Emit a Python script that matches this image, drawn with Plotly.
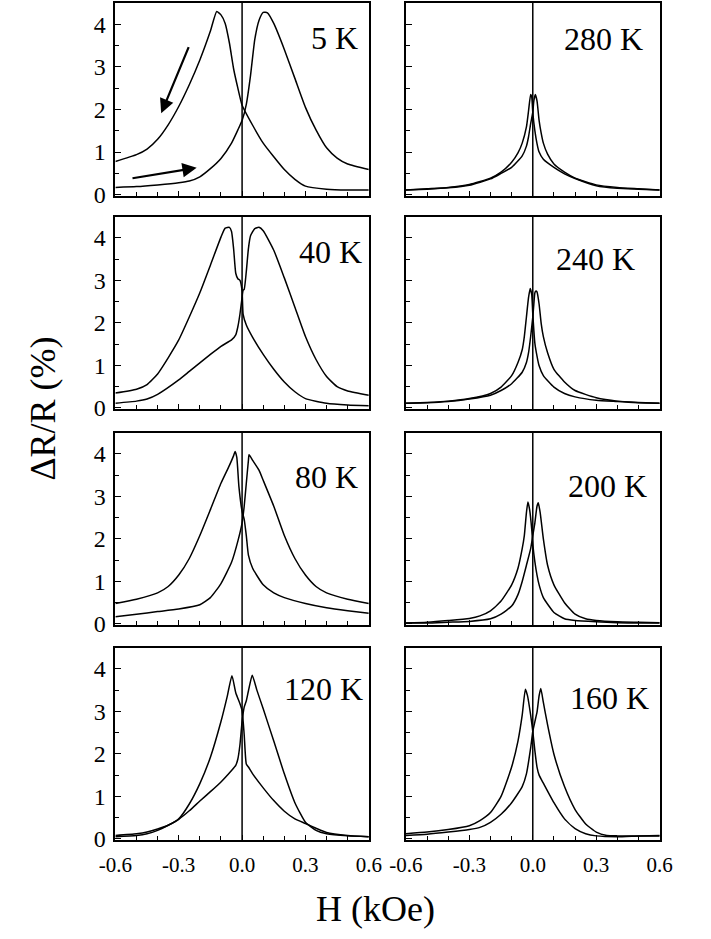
import plotly.graph_objects as go

# ---------------- data ----------------
temps_left = ["5 K", "40 K", "80 K", "120 K"]
temps_right = ["280 K", "240 K", "200 K", "160 K"]

# 5 K
h_dn_5 = [-0.6, -0.5, -0.45, -0.4, -0.35, -0.3, -0.25, -0.2, -0.15, -0.12, -0.1, -0.08, -0.06, -0.04, -0.02, 0, 0.05, 0.1, 0.15, 0.2, 0.25, 0.3, 0.4, 0.5, 0.6]
r_dn_5 = [0.78, 0.94, 1.07, 1.3, 1.64, 2.07, 2.58, 3.16, 3.84, 4.3, 4.22, 4.02, 3.56, 2.95, 2.5, 2.1, 1.63, 1.21, 0.89, 0.59, 0.36, 0.2, 0.13, 0.11, 0.11]
h_up_5 = [-0.6, -0.5, -0.4, -0.3, -0.25, -0.2, -0.15, -0.1, -0.05, -0.02, 0, 0.02, 0.04, 0.06, 0.08, 0.1, 0.12, 0.15, 0.2, 0.25, 0.3, 0.35, 0.4, 0.45, 0.5, 0.6]
r_up_5 = [0.17, 0.19, 0.23, 0.28, 0.32, 0.42, 0.61, 0.85, 1.21, 1.52, 1.74, 2.12, 2.8, 3.64, 4.09, 4.28, 4.27, 4.02, 3.41, 2.73, 2.05, 1.52, 1.1, 0.86, 0.72, 0.59]

# 40 K
h_dn_40 = [-0.6, -0.5, -0.45, -0.4, -0.35, -0.3, -0.25, -0.2, -0.15, -0.1, -0.08, -0.06, -0.05, -0.04, -0.03, -0.02, -0.01, 0, 0.005, 0.02, 0.05, 0.1, 0.15, 0.2, 0.25, 0.3, 0.4, 0.5, 0.6]
r_dn_40 = [0.35, 0.44, 0.55, 0.8, 1.18, 1.6, 2.14, 2.71, 3.36, 4.02, 4.23, 4.25, 4.15, 3.74, 3.17, 3.04, 3.0, 2.75, 2.2, 1.95, 1.66, 1.26, 0.91, 0.61, 0.38, 0.22, 0.11, 0.07, 0.05]
h_up_40 = [-0.6, -0.5, -0.45, -0.4, -0.3, -0.25, -0.2, -0.15, -0.1, -0.05, -0.03, -0.02, -0.01, 0, 0.005, 0.01, 0.02, 0.03, 0.04, 0.06, 0.08, 0.1, 0.15, 0.2, 0.25, 0.3, 0.35, 0.4, 0.45, 0.5, 0.6]
r_up_40 = [0.11, 0.16, 0.21, 0.32, 0.66, 0.86, 1.06, 1.26, 1.45, 1.6, 1.72, 1.91, 2.21, 2.6, 2.77, 2.79, 3.21, 3.75, 4.05, 4.22, 4.25, 4.17, 3.71, 3.06, 2.37, 1.68, 1.14, 0.74, 0.5, 0.4, 0.3]

# 80 K
h_dn_80 = [-0.6, -0.5, -0.4, -0.35, -0.3, -0.25, -0.2, -0.15, -0.1, -0.06, -0.04, -0.033, -0.025, -0.015, 0, 0.01, 0.02, 0.03, 0.05, 0.1, 0.15, 0.2, 0.3, 0.4, 0.5, 0.6]
r_dn_80 = [0.48, 0.58, 0.73, 0.88, 1.15, 1.54, 2.08, 2.69, 3.31, 3.73, 3.96, 4.06, 3.92, 3.23, 2.65, 2.46, 2.08, 1.62, 1.31, 0.92, 0.73, 0.62, 0.48, 0.38, 0.31, 0.25]
h_up_80 = [-0.6, -0.5, -0.4, -0.3, -0.2, -0.15, -0.1, -0.05, -0.02, 0, 0.01, 0.02, 0.03, 0.033, 0.05, 0.08, 0.1, 0.15, 0.2, 0.25, 0.3, 0.35, 0.4, 0.5, 0.6]
r_up_80 = [0.17, 0.23, 0.29, 0.35, 0.45, 0.62, 0.95, 1.45, 1.95, 2.38, 2.77, 3.31, 3.85, 3.98, 3.85, 3.62, 3.38, 2.77, 2.08, 1.54, 1.15, 0.88, 0.73, 0.58, 0.48]

# 120 K
h_dn_120 = [-0.6, -0.5, -0.45, -0.4, -0.35, -0.3, -0.25, -0.2, -0.15, -0.1, -0.07, -0.048, -0.03, -0.01, 0, 0.01, 0.02, 0.03, 0.05, 0.1, 0.15, 0.2, 0.25, 0.3, 0.35, 0.4, 0.5, 0.6]
r_dn_120 = [0.08, 0.12, 0.16, 0.23, 0.32, 0.47, 0.82, 1.3, 1.92, 2.76, 3.36, 3.84, 3.44, 3.18, 3.02, 2.45, 1.76, 1.69, 1.53, 1.2, 0.9, 0.65, 0.47, 0.36, 0.25, 0.15, 0.08, 0.05]
h_up_120 = [-0.6, -0.5, -0.45, -0.4, -0.35, -0.3, -0.25, -0.2, -0.15, -0.1, -0.05, -0.03, -0.02, -0.01, 0, 0.01, 0.02, 0.03, 0.048, 0.07, 0.1, 0.15, 0.2, 0.25, 0.3, 0.35, 0.4, 0.5, 0.6]
r_up_120 = [0.05, 0.08, 0.12, 0.2, 0.32, 0.46, 0.66, 0.89, 1.11, 1.34, 1.61, 1.73, 1.88, 2.22, 2.76, 3.1, 3.25, 3.48, 3.85, 3.5, 3.06, 2.3, 1.53, 0.85, 0.39, 0.2, 0.12, 0.07, 0.05]

# 280 K
h_dn_280 = [-0.6, -0.5, -0.4, -0.3, -0.2, -0.15, -0.1, -0.07, -0.05, -0.03, -0.02, -0.01, -0.005, 0, 0.01, 0.02, 0.03, 0.05, 0.1, 0.15, 0.2, 0.3, 0.4, 0.5, 0.6]
r_dn_280 = [0.11, 0.14, 0.17, 0.24, 0.39, 0.53, 0.76, 0.98, 1.21, 1.59, 1.97, 2.35, 2.3, 1.93, 1.5, 1.2, 1.0, 0.83, 0.64, 0.49, 0.38, 0.21, 0.15, 0.13, 0.11]
h_up_280 = [-0.6, -0.5, -0.4, -0.3, -0.2, -0.15, -0.1, -0.05, -0.03, -0.02, -0.01, 0, 0.005, 0.012, 0.02, 0.03, 0.04, 0.05, 0.07, 0.1, 0.15, 0.2, 0.3, 0.4, 0.5, 0.6]
r_up_280 = [0.11, 0.13, 0.16, 0.22, 0.37, 0.5, 0.64, 0.91, 1.14, 1.36, 1.67, 1.93, 2.2, 2.35, 2.2, 1.74, 1.44, 1.21, 0.95, 0.72, 0.53, 0.39, 0.23, 0.17, 0.14, 0.11]

# 240 K
h_dn_240 = [-0.6, -0.5, -0.4, -0.3, -0.2, -0.15, -0.1, -0.07, -0.05, -0.04, -0.03, -0.02, -0.012, -0.005, 0, 0.01, 0.02, 0.03, 0.05, 0.1, 0.15, 0.2, 0.3, 0.4, 0.5, 0.6]
r_dn_240 = [0.11, 0.13, 0.16, 0.22, 0.34, 0.49, 0.76, 1.07, 1.37, 1.68, 2.14, 2.6, 2.81, 2.67, 2.21, 1.52, 1.22, 0.99, 0.76, 0.49, 0.34, 0.26, 0.18, 0.15, 0.12, 0.11]
h_up_240 = [-0.6, -0.5, -0.4, -0.3, -0.2, -0.15, -0.1, -0.05, -0.03, -0.02, -0.01, 0, 0.005, 0.01, 0.015, 0.02, 0.03, 0.04, 0.05, 0.07, 0.1, 0.15, 0.2, 0.3, 0.4, 0.5, 0.6]
r_up_240 = [0.11, 0.12, 0.15, 0.21, 0.3, 0.41, 0.57, 0.84, 1.07, 1.3, 1.68, 2.14, 2.44, 2.71, 2.75, 2.73, 2.44, 1.98, 1.68, 1.3, 0.91, 0.61, 0.41, 0.24, 0.16, 0.13, 0.11]

# 200 K
h_dn_200 = [-0.6, -0.5, -0.4, -0.3, -0.25, -0.2, -0.15, -0.1, -0.07, -0.05, -0.04, -0.03, -0.023, -0.015, -0.005, 0, 0.01, 0.02, 0.03, 0.05, 0.1, 0.15, 0.2, 0.3, 0.4, 0.5, 0.6]
r_dn_200 = [0.02, 0.04, 0.08, 0.13, 0.19, 0.31, 0.54, 0.92, 1.31, 1.77, 2.08, 2.62, 2.87, 2.69, 2.23, 1.88, 1.46, 1.15, 0.92, 0.62, 0.27, 0.12, 0.08, 0.05, 0.03, 0.02, 0.02]
h_up_200 = [-0.6, -0.5, -0.4, -0.3, -0.2, -0.15, -0.1, -0.07, -0.05, -0.03, -0.01, 0, 0.01, 0.02, 0.026, 0.035, 0.05, 0.07, 0.1, 0.15, 0.2, 0.25, 0.3, 0.4, 0.5, 0.6]
r_up_200 = [0.02, 0.02, 0.04, 0.06, 0.12, 0.23, 0.42, 0.69, 1.0, 1.38, 1.77, 2.08, 2.38, 2.77, 2.85, 2.62, 2.0, 1.38, 0.92, 0.5, 0.23, 0.12, 0.08, 0.05, 0.04, 0.03]

# 160 K
h_dn_160 = [-0.6, -0.5, -0.4, -0.3, -0.25, -0.2, -0.15, -0.1, -0.07, -0.05, -0.035, -0.025, -0.01, 0, 0.01, 0.02, 0.03, 0.05, 0.1, 0.15, 0.2, 0.25, 0.3, 0.4, 0.5, 0.6]
r_dn_160 = [0.12, 0.16, 0.22, 0.31, 0.43, 0.62, 1.0, 1.69, 2.3, 2.91, 3.52, 3.37, 2.91, 2.53, 2.07, 1.69, 1.5, 1.31, 0.85, 0.47, 0.24, 0.12, 0.07, 0.05, 0.07, 0.08]
h_up_160 = [-0.6, -0.5, -0.4, -0.3, -0.25, -0.2, -0.15, -0.1, -0.05, -0.03, -0.01, 0, 0.01, 0.02, 0.03, 0.038, 0.05, 0.07, 0.1, 0.15, 0.2, 0.25, 0.3, 0.35, 0.4, 0.5, 0.6]
r_up_160 = [0.08, 0.11, 0.16, 0.22, 0.27, 0.39, 0.58, 0.85, 1.23, 1.53, 2.14, 2.53, 2.76, 2.98, 3.37, 3.54, 3.21, 2.68, 1.99, 1.23, 0.69, 0.35, 0.16, 0.08, 0.07, 0.07, 0.07]

x_tickvals = [-0.6, -0.3, 0.0, 0.3, 0.6]
x_ticktext = ["-0.6", "-0.3", "0.0", "0.3", "0.6"]
y_tickvals = [0, 1, 2, 3, 4]
y_ticktext = ["0", "1", "2", "3", "4"]

# ---------------- layout ----------------
W, Hh = 711, 939
FONT = "Liberation Serif, Times New Roman, serif"

def fx(px):
    return px / W

def fy(py):
    return 1 - py / Hh

col_px = [(102.7, 367.3), (406.0, 671.0)]
row_px = [(3.0, 198.5), (219.5, 414.5), (438.3, 633.3), (656.0, 851.0)]

panels = [
    (0, 0, temps_left[0], h_dn_5, r_dn_5, h_up_5, r_up_5, (331, 38)),
    (0, 1, temps_left[1], h_dn_40, r_dn_40, h_up_40, r_up_40, (327, 255)),
    (0, 2, temps_left[2], h_dn_80, r_dn_80, h_up_80, r_up_80, (323, 483)),
    (0, 3, temps_left[3], h_dn_120, r_dn_120, h_up_120, r_up_120, (320, 698)),
    (1, 0, temps_right[0], h_dn_280, r_dn_280, h_up_280, r_up_280, (612, 39)),
    (1, 1, temps_right[1], h_dn_240, r_dn_240, h_up_240, r_up_240, (604, 262)),
    (1, 2, temps_right[2], h_dn_200, r_dn_200, h_up_200, r_up_200, (617, 492)),
    (1, 3, temps_right[3], h_dn_160, r_dn_160, h_up_160, r_up_160, (619, 707)),
]

fig = go.Figure()
layout = dict(
    width=W, height=Hh,
    margin=dict(l=0, r=0, t=0, b=0),
    paper_bgcolor="white", plot_bgcolor="white",
    showlegend=False,
    font=dict(family=FONT, color="black"),
)
shapes = []
annotations = []

for i, (c, r, label, hd, rd, hu, ru, lab) in enumerate(panels, start=1):
    xa = "x" if i == 1 else f"x{i}"
    ya = "y" if i == 1 else f"y{i}"
    xkey = "xaxis" if i == 1 else f"xaxis{i}"
    ykey = "yaxis" if i == 1 else f"yaxis{i}"
    x0, x1 = col_px[c]
    yt, yb = row_px[r]
    layout[xkey] = dict(
        domain=[fx(x0), fx(x1)], anchor=ya, range=[-0.6, 0.6],
        showgrid=False, zeroline=False, showline=True, mirror=True,
        linecolor="black", linewidth=1.6,
        tickmode="array", tickvals=x_tickvals, ticktext=x_ticktext,
        ticks="inside", ticklen=5, tickwidth=1.2, tickcolor="black",
        minor=dict(tickmode="linear", tick0=0, dtick=0.1, ticks="inside",
                   ticklen=4, tickwidth=1.2, tickcolor="black"),
        showticklabels=(r == 3),
        ticklabelstandoff=5,
        tickfont=dict(family=FONT, size=21, color="black"),
        fixedrange=True,
    )
    layout[ykey] = dict(
        domain=[fy(yb), fy(yt)], anchor=xa, range=[-0.03, 4.5],
        showgrid=False, zeroline=False, showline=True, mirror=True,
        linecolor="black", linewidth=1.6,
        tickmode="array", tickvals=y_tickvals, ticktext=y_ticktext,
        ticks="inside", ticklen=6, tickwidth=1.2, tickcolor="black",
        minor=dict(tickmode="linear", tick0=0, dtick=0.5, ticks="inside",
                   ticklen=4, tickwidth=1.2, tickcolor="black"),
        showticklabels=(c == 0),
        ticklabelstandoff=3,
        tickfont=dict(family=FONT, size=24, color="black"),
        fixedrange=True,
    )
    for hx, ry in ((hd, rd), (hu, ru)):
        fig.add_trace(go.Scatter(
            x=hx, y=ry, mode="lines", xaxis=xa, yaxis=ya,
            line=dict(color="black", width=1.5, shape="spline", smoothing=0.5),
            hoverinfo="skip",
        ))
    shapes.append(dict(type="line", xref=xa, yref=f"{ya} domain",
                       x0=0, x1=0, y0=0, y1=1,
                       line=dict(color="black", width=1.5)))
    annotations.append(dict(text=label, xref="paper", yref="paper",
                            x=fx(lab[0]), y=fy(lab[1]),
                            xanchor="center", yanchor="middle", showarrow=False,
                            font=dict(family=FONT, size=32, color="black")))

# arrows in the 5 K panel
arrow_tails = [(-0.25, 3.5), (-0.526, 0.38)]
arrow_heads = [(-0.383, 1.91), (-0.215, 0.63)]
for (tx, ty), (hx_, hy_) in zip(arrow_tails, arrow_heads):
    annotations.append(dict(x=hx_, y=hy_, ax=tx, ay=ty, xref="x", yref="y",
                            axref="x", ayref="y", text="", showarrow=True,
                            arrowhead=2, arrowsize=1.3, arrowwidth=2.2,
                            arrowcolor="black"))

# axis titles
annotations.append(dict(text="ΔR/R (%)", xref="paper", yref="paper",
                        x=fx(27), y=fy(414), textangle=-90,
                        xanchor="center", yanchor="middle", showarrow=False,
                        font=dict(family=FONT, size=36, color="black")))
annotations.append(dict(text="H (kOe)", xref="paper", yref="paper",
                        x=fx(374), y=fy(921),
                        xanchor="center", yanchor="middle", showarrow=False,
                        font=dict(family=FONT, size=36, color="black")))

layout["shapes"] = shapes
layout["annotations"] = annotations
fig.update_layout(**layout)
# remove the default 8px page margin so the figure fills the 711x939 window exactly
fig.write_html("out.html", config={"displayModeBar": False},
               post_script="document.body.style.margin='0px';")
